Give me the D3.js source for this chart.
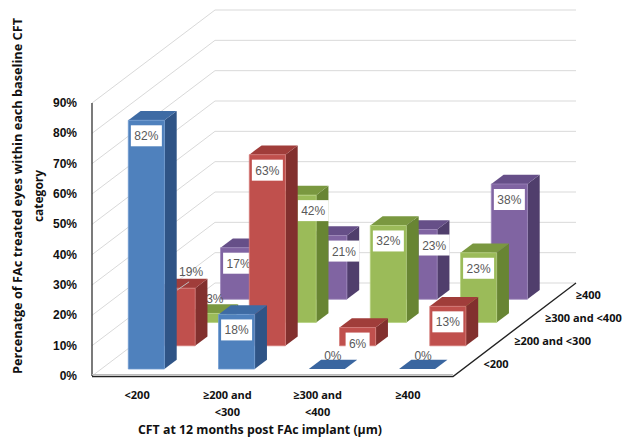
<!DOCTYPE html>
<html><head><meta charset="utf-8">
<script src="https://cdn.jsdelivr.net/npm/d3@7/dist/d3.min.js"></script>
<style>body{margin:0;background:#fff}svg{display:block}</style>
</head><body>
<svg id="c" width="639" height="443"></svg>
<script>
// ---- data ----
const categories = ["<200", "≥200 and <300", "≥300 and <400", "≥400"];
const categoryLines = [["<200"], ["≥200 and", "<300"], ["≥300 and", "<400"], ["≥400"]];
const seriesNames = ["<200", "≥200 and <300", "≥300 and <400", "≥400"]; // depth rows, front to back
const blueValues   = [82, 18, 0, 0];
const redValues    = [19, 63, 6, 13];
const greenValues  = [3, 42, 32, 23];
const purpleValues = [17, 21, 23, 38];
const yTicks = [0, 10, 20, 30, 40, 50, 60, 70, 80, 90];
const yTitle1 = "Percenatge of FAc treated eyes within each baseline CFT";
const yTitle2 = "category";
const xTitle = "CFT at 12 months post FAc implant (μm)";

const seriesValues = [blueValues, redValues, greenValues, purpleValues];
const palette = [
  {front:"#4F81BD", top:"#3E6BA4", side:"#2F5486", edge:"#6f9bd1"},
  {front:"#C0504D", top:"#A03D3A", side:"#82302E", edge:"#d47a77"},
  {front:"#9BBB59", top:"#7A9840", side:"#688533", edge:"#b5d07f"},
  {front:"#8064A2", top:"#664F88", side:"#503E6C", edge:"#9c86ba"}
];

// ---- geometry ----
const svg = d3.select("#c");
const ox = 92, oy = 376;          // front-left-bottom corner
const W = 361;                    // front width
const depthUnit = [30.75, -23.25]; // per series row
const nRows = seriesNames.length;

const x = d3.scaleBand().domain(categories).range([0, W]).paddingInner(0.6).paddingOuter(0.3);
const z = d3.scaleBand().domain(seriesNames).range([0, nRows]).paddingInner(0.6).paddingOuter(0.3);
const y = d3.scaleLinear().domain([0, 90]).range([0, 273]);

function P(px, py, pz) { return [ox + px + pz * depthUnit[0], oy - py + pz * depthUnit[1]]; }
const poly = pts => "M" + pts.map(p => p.join(",")).join("L") + "Z";

// ---- walls / grid ----
const grid = svg.append("g").attr("stroke", "#D9D9D9").attr("stroke-width", 1).attr("fill", "none");
yTicks.forEach(t => {
  const a = P(0, y(t), 0), b = P(0, y(t), nRows), c = P(W, y(t), nRows);
  grid.append("path").attr("d", `M${a}L${b}L${c}`);
});

// axis labels
svg.append("g").selectAll("text").data(yTicks).join("text")
  .attr("x", 77).attr("y", d => oy - y(d) + 4)
  .attr("text-anchor", "end").attr("font-family", "Liberation Sans, Arial, sans-serif")
  .attr("font-weight", "bold").attr("font-size", 12).attr("fill", "#111")
  .text(d => d + "%");

// y axis line and floor edges
svg.append("path").attr("d", `M${ox},${oy - y(90)}L${ox},${oy}`).attr("stroke", "#222").attr("stroke-width", 1.2);
const f0 = P(0, 0, 0), f1 = P(W, 0, 0), f2 = P(W, 0, nRows);
svg.append("path").attr("d", `M${f0[0]},${f0[1] - 1.5}L${f1[0]},${f1[1] - 1.5}`).attr("stroke", "#bbb").attr("stroke-width", 1);
svg.append("path").attr("d", `M${f0[0]},${f0[1] + 0.5}L${f1[0]},${f1[1] + 0.5}L${f2[0]},${f2[1]}`)
  .attr("stroke", "#222").attr("stroke-width", 1.3).attr("fill", "none");

// ---- bars (back to front) ----
const labelFont = "Liberation Sans, Arial, sans-serif";
const outsideLabels = new Set(["1|<200", "2|<200"]); // series index | category
function barGeom(si, ci) {
  const v = seriesValues[si][ci];
  const x0 = x(categories[ci]), x1 = x0 + x.bandwidth();
  const z0 = z(seriesNames[si]), z1 = z0 + z.bandwidth();
  const h = y(v);
  return {v, x0, x1, z0, z1, h};
}
for (let si = nRows - 1; si >= 0; si--) {
  const g = svg.append("g");
  const col = palette[si];
  categories.forEach((cat, ci) => {
    const b = barGeom(si, ci);
    if (b.v > 0) {
      g.append("path").attr("d", poly([P(b.x1,0,b.z0), P(b.x1,0,b.z1), P(b.x1,b.h,b.z1), P(b.x1,b.h,b.z0)])).attr("fill", col.side);
      g.append("path").attr("d", poly([P(b.x0,b.h,b.z0), P(b.x1,b.h,b.z0), P(b.x1,b.h,b.z1), P(b.x0,b.h,b.z1)])).attr("fill", col.top);
      g.append("path").attr("d", poly([P(b.x0,0,b.z0), P(b.x1,0,b.z0), P(b.x1,b.h,b.z0), P(b.x0,b.h,b.z0)]))
        .attr("fill", col.front).attr("stroke", col.edge).attr("stroke-width", 0.8);
    } else {
      g.append("path").attr("d", poly([P(b.x0,0,b.z0), P(b.x1,0,b.z0), P(b.x1,0,b.z1), P(b.x0,0,b.z1)])).attr("fill", "#3A66A0");
    }
    // label
    const fl = P(b.x0, b.h, b.z0), fr = P(b.x1, b.h, b.z0), tb = P(b.x0, b.h, b.z1);
    const txt = b.v + "%";
    const faceCx = (fl[0] + fr[0]) / 2;
    if (b.v === 0) {
      g.append("text").attr("x", faceCx + 6).attr("y", tb[1]).attr("text-anchor", "middle")
        .attr("font-family", labelFont).attr("font-size", 12).attr("fill", "#595959").text(txt);
    } else if (outsideLabels.has(si + "|" + cat)) {
      const lx = faceCx + (si === 1 ? 14 : 7), ly = tb[1] - (si === 1 ? 3 : 1);
      if (si === 1) {
        g.append("path").attr("d", `M${fl[0] + 18},${fl[1] + 2}L${lx - 2},${ly + 6}`).attr("stroke", "#bfbfbf").attr("stroke-width", 1);
      }
      g.append("text").attr("x", lx).attr("y", ly).attr("text-anchor", "middle")
        .attr("font-family", labelFont).attr("font-size", 12).attr("fill", "#595959").text(txt);
    } else {
      const tw = txt.length === 2 ? 17 : 24;
      const bw = tw + 7, bh = 21;
      let left = faceCx - bw / 2;
      if (si > 0) {
        const fb = barGeom(si - 1, ci);
        const occRight = P(fb.x1, fb.h, fb.z1)[0];
        const occTop = P(fb.x1, fb.h, fb.z1)[1];
        if (occTop < fl[1] + 5 + bh && occRight > left) left = Math.max(left, occRight);
      }
      const top = fl[1] + 5;
      g.append("rect").attr("x", left).attr("y", top).attr("width", bw).attr("height", bh).attr("fill", "#fff");
      g.append("text").attr("x", left + bw / 2).attr("y", top + 15).attr("text-anchor", "middle")
        .attr("font-family", labelFont).attr("font-size", 12).attr("fill", "#595959").text(txt);
    }
  });
}

// ---- category labels ----
const axisFont = "Open Sans, Liberation Sans, sans-serif";
categoryLines.forEach((lines, ci) => {
  const cx = ox + x(categories[ci]) + x.bandwidth() / 2;
  lines.forEach((ln, li) => {
    svg.append("text").attr("x", cx).attr("y", 399 + li * 17).attr("text-anchor", "middle")
      .attr("font-family", axisFont).attr("font-weight", "bold").attr("font-size", 11).attr("fill", "#111").text(ln);
  });
});
svg.append("text").attr("x", 260).attr("y", 434).attr("text-anchor", "middle")
  .attr("font-family", axisFont).attr("font-weight", "bold").attr("font-size", 12).attr("fill", "#111")
  .attr("textLength", 244).attr("lengthAdjust", "spacingAndGlyphs").text(xTitle);

// depth (series) labels
seriesNames.forEach(s => {
  const p = P(W, 0, z(s) + z.bandwidth() / 2);
  svg.append("text").attr("x", p[0] + 15).attr("y", p[1] + 4)
    .attr("font-family", axisFont).attr("font-weight", "bold").attr("font-size", 11).attr("fill", "#111").text(s);
});

// y title
svg.append("text").attr("transform", "translate(22,196) rotate(-90)").attr("text-anchor", "middle")
  .attr("font-family", axisFont).attr("font-weight", "bold").attr("font-size", 12).attr("fill", "#111")
  .attr("textLength", 356).attr("lengthAdjust", "spacingAndGlyphs").text(yTitle1);
svg.append("text").attr("transform", "translate(43,196) rotate(-90)").attr("text-anchor", "middle")
  .attr("font-family", axisFont).attr("font-weight", "bold").attr("font-size", 12).attr("fill", "#111").text(yTitle2);
</script>
</body></html>
